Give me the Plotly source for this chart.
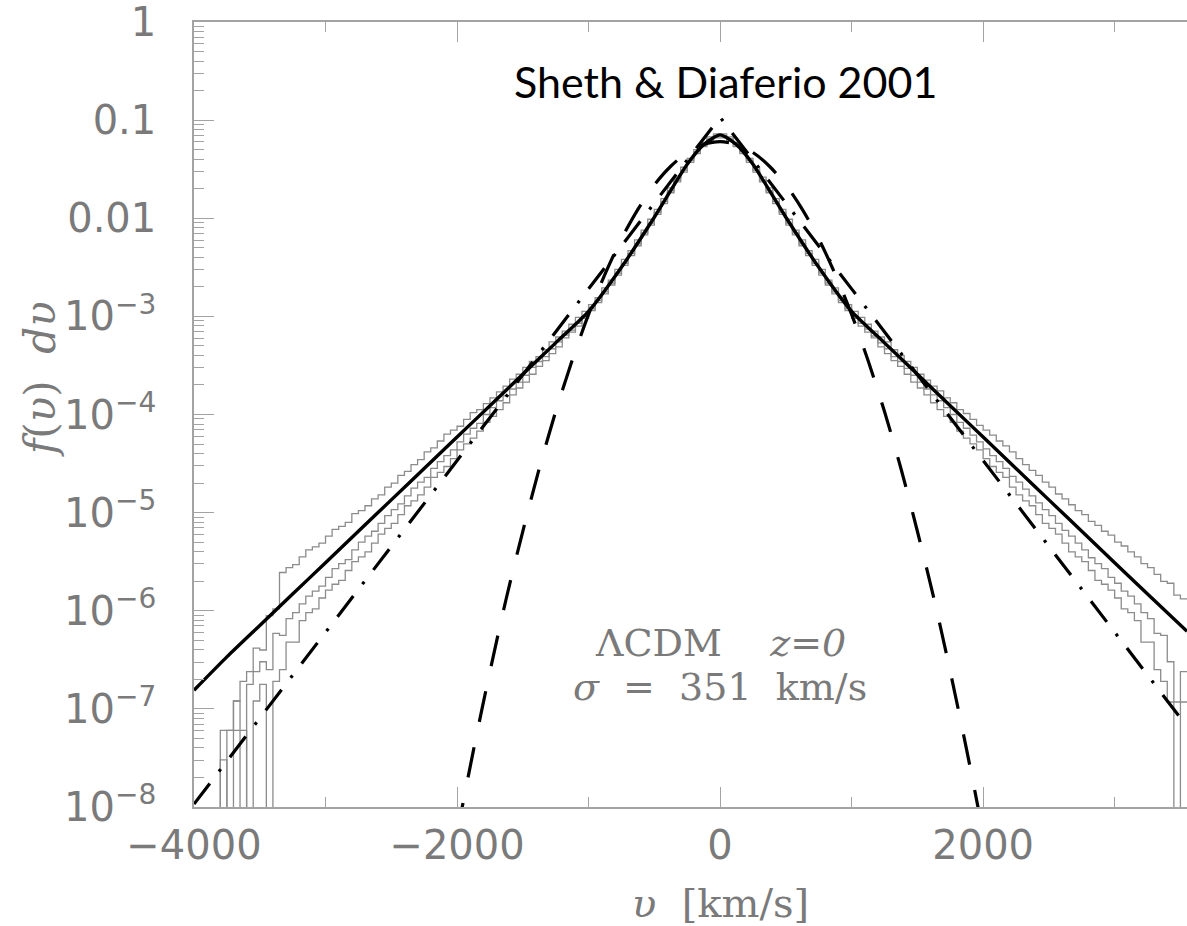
import plotly.graph_objects as go

# ---------------------------------------------------------------------------
# Pairwise velocity distribution, LCDM z=0 (sigma = 351 km/s)
# ---------------------------------------------------------------------------

# Simulation histograms: 50 km/s bins starting at -4000 km/s.
# Values are log10 of f(v) dv per bin; None marks an empty bin.
BIN_START = -4000
BIN_WIDTH = 50

LOG10_HIST_UPPER = [
    None, None, None, None, None, -7.22, -6.92, -6.72, -6.62, -6.38,
    -6.40, -6.05, -5.98, -5.61, -5.56, -5.53, -5.45, -5.38, -5.35, -5.31,
    -5.24, -5.17, -5.14, -5.10, -5.01, -4.98, -4.93, -4.86, -4.82, -4.74,
    -4.70, -4.62, -4.58, -4.51, -4.46, -4.38, -4.34, -4.27, -4.20, -4.16,
    -4.12, -4.05, -3.98, -3.95, -3.89, -3.83, -3.77, -3.71, -3.64, -3.59,
    -3.52, -3.46, -3.41, -3.34, -3.26, -3.21, -3.15, -3.08, -3.01, -2.95,
    -2.88, -2.81, -2.71, -2.63, -2.52, -2.42, -2.33, -2.22, -2.12, -2.01,
    -1.91, -1.80, -1.69, -1.59, -1.48, -1.39, -1.30, -1.23, -1.17, -1.14,
    -1.14, -1.17, -1.23, -1.30, -1.39, -1.48, -1.58, -1.69, -1.80, -1.91,
    -2.01, -2.12, -2.22, -2.33, -2.42, -2.52, -2.63, -2.71, -2.81, -2.88,
    -2.95, -3.01, -3.08, -3.15, -3.21, -3.26, -3.34, -3.40, -3.46, -3.52,
    -3.59, -3.65, -3.71, -3.76, -3.83, -3.88, -3.95, -3.99, -4.05, -4.11,
    -4.16, -4.21, -4.27, -4.32, -4.38, -4.45, -4.51, -4.57, -4.62, -4.69,
    -4.74, -4.81, -4.86, -4.92, -4.98, -5.02, -5.09, -5.13, -5.19, -5.23,
    -5.30, -5.34, -5.40, -5.45, -5.52, -5.56, -5.63, -5.70, -5.72, -5.84, -5.88,
]

LOG10_HIST_MIDDLE = [
    None, None, None, None, -7.22, -7.22, -6.92, None, -6.75, -6.62,
    -6.52, -6.60, -6.23, -6.25, -6.08, -6.02, -5.93, -5.85, -5.80, -5.75,
    -5.66, -5.57, -5.52, -5.48, -5.38, -5.30, -5.24, -5.19, -5.11, -5.03,
    -4.97, -4.91, -4.83, -4.75, -4.69, -4.64, -4.55, -4.48, -4.42, -4.36,
    -4.28, -4.20, -4.14, -4.09, -4.00, -3.93, -3.86, -3.81, -3.74, -3.67,
    -3.60, -3.52, -3.46, -3.41, -3.33, -3.26, -3.19, -3.14, -3.07, -3.00,
    -2.92, -2.84, -2.75, -2.66, -2.56, -2.46, -2.36, -2.26, -2.15, -2.05,
    -1.94, -1.83, -1.72, -1.61, -1.51, -1.41, -1.32, -1.25, -1.19, -1.16,
    -1.16, -1.19, -1.25, -1.32, -1.41, -1.51, -1.61, -1.72, -1.83, -1.94,
    -2.05, -2.15, -2.26, -2.36, -2.46, -2.56, -2.66, -2.75, -2.84, -2.92,
    -3.00, -3.07, -3.13, -3.20, -3.27, -3.33, -3.41, -3.46, -3.53, -3.60,
    -3.67, -3.74, -3.80, -3.86, -3.93, -4.00, -4.08, -4.14, -4.21, -4.28,
    -4.35, -4.42, -4.48, -4.55, -4.63, -4.69, -4.76, -4.83, -4.90, -4.97,
    -5.03, -5.11, -5.18, -5.24, -5.31, -5.38, -5.46, -5.52, -5.57, -5.66,
    -5.72, -5.80, -5.85, -5.93, -6.02, -6.08, -6.23, -6.25, -6.52, -6.93, -6.62,
]

LOG10_HIST_LOWER = [
    None, None, None, None, -7.52, None, -7.22, -7.22, None, -6.92,
    -6.75, None, -6.72, -6.60, -6.32, -6.32, -6.10, -6.02, -5.98, -5.87,
    -5.79, -5.73, -5.69, -5.59, -5.50, -5.45, -5.40, -5.31, -5.22, -5.16,
    -5.11, -5.02, -4.93, -4.88, -4.82, -4.74, -4.64, -4.59, -4.53, -4.45,
    -4.36, -4.30, -4.24, -4.17, -4.08, -4.02, -3.95, -3.88, -3.80, -3.73,
    -3.67, -3.59, -3.51, -3.45, -3.38, -3.31, -3.22, -3.16, -3.10, -3.02,
    -2.94, -2.86, -2.77, -2.68, -2.58, -2.48, -2.38, -2.28, -2.17, -2.07,
    -1.96, -1.85, -1.74, -1.63, -1.53, -1.43, -1.34, -1.27, -1.21, -1.18,
    -1.18, -1.21, -1.27, -1.34, -1.43, -1.53, -1.63, -1.74, -1.85, -1.96,
    -2.07, -2.17, -2.28, -2.38, -2.48, -2.58, -2.68, -2.77, -2.86, -2.94,
    -3.02, -3.10, -3.16, -3.22, -3.31, -3.38, -3.45, -3.51, -3.59, -3.67,
    -3.73, -3.80, -3.88, -3.95, -4.02, -4.08, -4.17, -4.24, -4.30, -4.36,
    -4.45, -4.53, -4.59, -4.64, -4.74, -4.82, -4.88, -4.93, -5.02, -5.11,
    -5.16, -5.22, -5.31, -5.40, -5.45, -5.50, -5.59, -5.69, -5.73, -5.79,
    -5.87, -5.98, -6.02, -6.10, -6.32, -6.32, -6.60, -6.72, -6.93, None, -6.93,
]

# Model curves (velocity in km/s, log10 f(v) dv)
V_MODEL = [-4000, -3750, -3500, -3250, -3000, -2750, -2500, -2250, -2000,
           -1750, -1500, -1250, -1000, -750, -500, -250, -125, 0,
           125, 250, 500, 750, 1000, 1250, 1500, 1750, 2000, 2250, 2500,
           2750, 3000, 3250, 3550]
LOG10_MODEL = [-6.81, -6.47, -6.15, -5.83, -5.51, -5.19, -4.87, -4.55, -4.23,
               -3.91, -3.59, -3.27, -2.95, -2.50, -1.99, -1.45, -1.25, -1.15,
               -1.25, -1.45, -1.99, -2.50, -2.95, -3.27, -3.59, -3.91, -4.23,
               -4.55, -4.87, -5.19, -5.51, -5.83, -6.21]

V_GAUSS = [-2000, -1875, -1750, -1625, -1500, -1375, -1250, -1125, -1000,
           -875, -750, -625, -500, -375, -250, -125, 0,
           125, 250, 375, 500, 625, 750, 875, 1000, 1125, 1250, 1375, 1500,
           1625, 1750, 1875, 2000]
LOG10_GAUSS = [-8.27, -7.42, -6.62, -5.87, -5.19, -4.55, -3.97, -3.45, -2.98,
               -2.57, -2.21, -1.91, -1.66, -1.47, -1.33, -1.25, -1.22,
               -1.25, -1.33, -1.47, -1.66, -1.91, -2.21, -2.57, -2.98, -3.45,
               -3.97, -4.55, -5.19, -5.87, -6.62, -7.42, -8.27]

V_EXP = [-4000, -3000, -2000, -1000, 0, 1000, 2000, 3000, 3550]
LOG10_EXP = [-7.97, -6.22, -4.47, -2.72, -0.97, -2.72, -4.47, -6.22, -7.18]

# Axis ticks
X_TICKS = [-4000, -2000, 0, 2000]
X_TICK_TEXT = ["\u22124000", "\u22122000", "0", "2000"]
Y_TICKS = [1, 0.1, 0.01, 1e-3, 1e-4, 1e-5, 1e-6, 1e-7, 1e-8]
Y_TICK_TEXT = ["1", "0.1", "0.01", "10<sup>\u22123</sup>", "10<sup>\u22124</sup>",
               "10<sup>\u22125</sup>", "10<sup>\u22126</sup>", "10<sup>\u22127</sup>",
               "10<sup>\u22128</sup>"]

EMPTY_FLOOR = 1e-12   # empty bins drop below the plotted range
AXIS_GREY = "#a3a3a3"
TEXT_GREY = "#7a7a7a"
HIST_GREY = "#8c8c8c"


def step_path(logs):
    xs, ys = [], []
    for i, lv in enumerate(logs):
        xs.append(BIN_START + BIN_WIDTH * i)
        ys.append(10 ** lv if lv is not None else EMPTY_FLOOR)
    xs.append(BIN_START + BIN_WIDTH * len(logs))
    ys.append(ys[-1])
    return xs, ys


fig = go.Figure()

for hist in (LOG10_HIST_UPPER, LOG10_HIST_MIDDLE, LOG10_HIST_LOWER):
    hx, hy = step_path(hist)
    fig.add_trace(go.Scatter(x=hx, y=hy, mode="lines", line_shape="hv",
                             line=dict(color=HIST_GREY, width=1.3),
                             showlegend=False, hoverinfo="skip"))

fig.add_trace(go.Scatter(x=V_GAUSS, y=[10 ** v for v in LOG10_GAUSS], mode="lines",
                         line=dict(color="black", width=3.2, dash="31px,26px",
                                   shape="spline", smoothing=0.8),
                         showlegend=False))
fig.add_trace(go.Scatter(x=V_EXP, y=[10 ** v for v in LOG10_EXP], mode="lines",
                         line=dict(color="black", width=3.2, dash="26px,15px,3px,15px"),
                         showlegend=False))
fig.add_trace(go.Scatter(x=V_MODEL, y=[10 ** v for v in LOG10_MODEL], mode="lines",
                         line=dict(color="black", width=3.4, shape="spline", smoothing=0.6),
                         showlegend=False))

minor_y = [m * 10 ** e for e in range(-8, 0) for m in range(2, 10)]

fig.update_layout(
    width=1187, height=926,
    margin=dict(l=194, r=0, t=22, b=119),
    paper_bgcolor="white", plot_bgcolor="white",
    xaxis=dict(
        range=[-4000, 3550], showgrid=False, zeroline=False,
        showline=True, linecolor=AXIS_GREY, linewidth=1.5, mirror="ticks",
        ticks="inside", ticklen=20, tickwidth=1.4, tickcolor=AXIS_GREY,
        tickvals=X_TICKS, ticktext=X_TICK_TEXT, ticklabelstandoff=2,
        tickfont=dict(family="DejaVu Sans", size=40, color=TEXT_GREY),
        minor=dict(dtick=1000, tick0=0, ticks="inside", ticklen=10,
                   tickwidth=1.4, tickcolor=AXIS_GREY, showgrid=False),
    ),
    yaxis=dict(
        type="log", range=[-8.0001, 0.0001], showgrid=False, zeroline=False,
        showline=True, linecolor=AXIS_GREY, linewidth=1.5,
        ticks="inside", ticklen=20, tickwidth=1.4, tickcolor=AXIS_GREY,
        tickvals=Y_TICKS, ticktext=Y_TICK_TEXT, ticklabelstandoff=28,
        ticklabeloverflow="allow",
        tickfont=dict(family="DejaVu Sans", size=40, color=TEXT_GREY),
        minor=dict(tickvals=minor_y, ticks="inside", ticklen=10,
                   tickwidth=1.4, tickcolor=AXIS_GREY, showgrid=False),
    ),
    annotations=[
        dict(text="Sheth &amp; Diaferio 2001", xref="paper", yref="paper",
             x=0.535, y=0.924, xanchor="center", yanchor="middle", showarrow=False,
             font=dict(family="Lato", size=43, color="black")),
        dict(text="\u039bCDM&nbsp;&nbsp;&nbsp;&nbsp;<i>z</i>=<i>0</i>", xref="x", yref="paper",
             x=0, y=0.209, xanchor="center", yanchor="middle", showarrow=False,
             font=dict(family="DejaVu Serif", size=38, color=TEXT_GREY)),
        dict(text="<i>\u03c3</i>&nbsp;&nbsp;=&nbsp;&nbsp;351&nbsp;&nbsp;km/s", xref="x", yref="paper",
             x=0, y=0.153, xanchor="center", yanchor="middle", showarrow=False,
             font=dict(family="DejaVu Serif", size=38, color=TEXT_GREY)),
        dict(text="<i>\u03c5</i>&nbsp;&nbsp;[km/s]", xref="x", yref="paper",
             x=0, y=-0.122, xanchor="center", yanchor="middle", showarrow=False,
             font=dict(family="DejaVu Serif", size=40, color=TEXT_GREY)),
        dict(text="<i>f</i>(<i>\u03c5</i>)&nbsp;&nbsp;<i>d\u03c5</i>", xref="paper", yref="paper",
             x=-0.155, y=0.545, xanchor="center", yanchor="middle", showarrow=False,
             textangle=-90,
             font=dict(family="DejaVu Serif", size=42, color=TEXT_GREY)),
    ],
)

fig.write_html("out.html")
